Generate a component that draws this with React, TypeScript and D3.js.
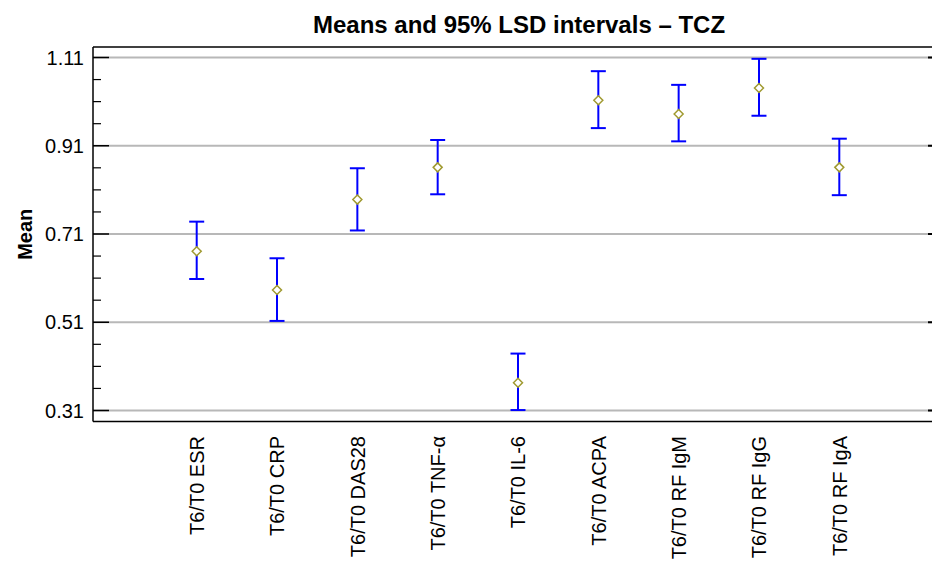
import React from "react";
import * as d3 from "d3";

const categories = [
  "T6/T0 ESR",
  "T6/T0 CRP",
  "T6/T0 DAS28",
  "T6/T0 TNF-α",
  "T6/T0 IL-6",
  "T6/T0 ACPA",
  "T6/T0 RF IgM",
  "T6/T0 RF IgG",
  "T6/T0 RF IgA",
];
const means = [0.671, 0.583, 0.788, 0.861, 0.373, 1.013, 0.982, 1.041, 0.861];
const lower = [0.608, 0.513, 0.718, 0.8, 0.311, 0.95, 0.92, 0.978, 0.798];
const upper = [0.738, 0.655, 0.859, 0.923, 0.439, 1.079, 1.048, 1.107, 0.926];
const yTicks = [0.31, 0.51, 0.71, 0.91, 1.11];
const yMinor = [0.36, 0.41, 0.46, 0.56, 0.61, 0.66, 0.76, 0.81, 0.86, 0.96, 1.01, 1.06];

const W = 932;
const H = 563;
const left = 93;
const top = 47;
const bottom = 421.5;
const right = 934;

export default function App() {
  const y = d3.scaleLinear().domain([0.31, 1.11]).range([410.5, 57.5]);
  const x = d3.scaleLinear().domain([0, 8]).range([196.7, 839.3]);
  const font = "Liberation Sans, Arial, sans-serif";
  return (
    <svg width={W} height={H} style={{ position: "absolute", left: 0, top: 0, background: "#fff" }}>
      <text x={519} y={33} textAnchor="middle" fontFamily={font} fontWeight="bold" fontSize={24}>
        Means and 95% LSD intervals – TCZ
      </text>
      {yTicks.map((t) => (
        <line key={"g" + t} x1={left} x2={right} y1={y(t)} y2={y(t)} stroke="#b8b8b8" strokeWidth={2} />
      ))}
      {yTicks.map((t) => (
        <g key={"t" + t}>
          <line x1={left} x2={left + 16} y1={y(t)} y2={y(t)} stroke="#000" strokeWidth={1.5} />
          <line x1={928} x2={right} y1={y(t)} y2={y(t)} stroke="#000" strokeWidth={2} />
          <text x={84} y={y(t)} dy="0.36em" textAnchor="end" fontFamily={font} fontSize={20}>
            {t.toFixed(2)}
          </text>
        </g>
      ))}
      {yMinor.map((t) => (
        <line key={"m" + t} x1={left} x2={left + 8} y1={y(t)} y2={y(t)} stroke="#000" strokeWidth={1.2} />
      ))}
      <line x1={left} x2={right} y1={top} y2={top} stroke="#000" strokeWidth={1.5} />
      <line x1={left} x2={right} y1={bottom} y2={bottom} stroke="#000" strokeWidth={1.5} />
      <line x1={left} x2={left} y1={top} y2={bottom} stroke="#000" strokeWidth={1.5} />
      <text
        transform={`translate(32,${(top + bottom) / 2}) rotate(-90)`}
        textAnchor="middle"
        fontFamily={font}
        fontWeight="bold"
        fontSize={20}
      >
        Mean
      </text>
      {categories.map((c, i) => (
        <g key={c}>
          <line x1={x(i)} x2={x(i)} y1={y(lower[i])} y2={y(upper[i])} stroke="#0000ff" strokeWidth={2} />
          <line x1={x(i) - 7.5} x2={x(i) + 7.5} y1={y(lower[i])} y2={y(lower[i])} stroke="#0000ff" strokeWidth={2} />
          <line x1={x(i) - 7.5} x2={x(i) + 7.5} y1={y(upper[i])} y2={y(upper[i])} stroke="#0000ff" strokeWidth={2} />
          <path
            d={`M${x(i)},${y(means[i]) - 4.5} L${x(i) + 4.5},${y(means[i])} L${x(i)},${y(means[i]) + 4.5} L${x(i) - 4.5},${y(means[i])} Z`}
            fill="#fff"
            stroke="#a09a30"
            strokeWidth={1.5}
          />
          <text
            transform={`translate(${x(i)},436) rotate(-90)`}
            dy="0.36em"
            textAnchor="end"
            fontFamily={font}
            fontSize={20}
          >
            {c}
          </text>
        </g>
      ))}
    </svg>
  );
}
